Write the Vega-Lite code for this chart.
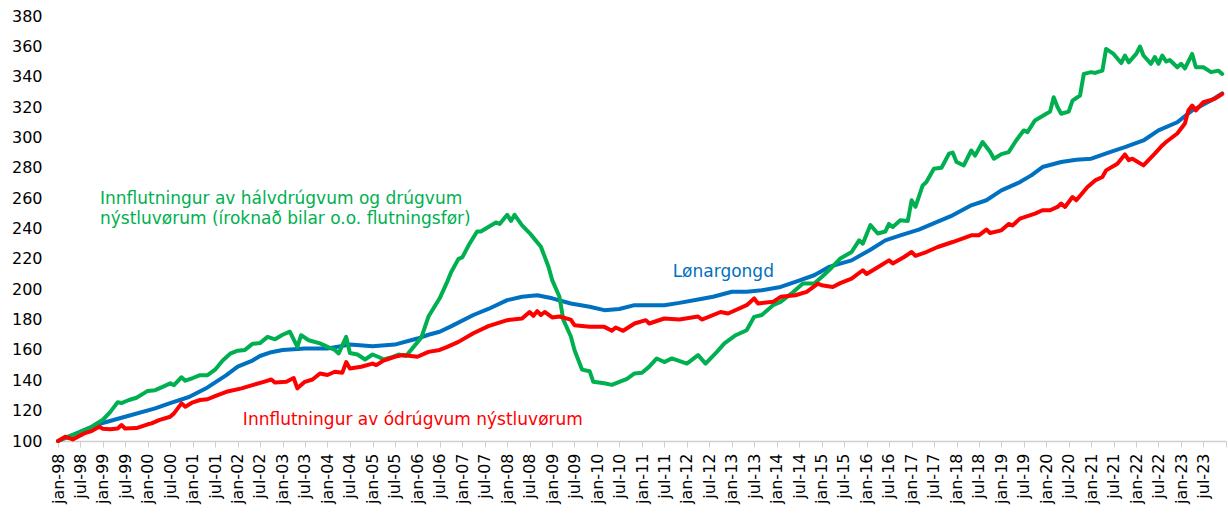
{
"$schema":"https://vega.github.io/schema/vega-lite/v6.json",
"width":1168,"height":425,
"autosize":{"type":"none"},
"padding":{"left":58,"top":16,"right":2,"bottom":72},
"background":"white",
"config":{"view":{"stroke":null},"font":"DejaVu Sans","axis":{"labelOverlap":false}},
"layer":[
{"data":{"values":[
{"s":"b","d":"1998-01","v":100},{"s":"b","d":"1998-07","v":106},{"s":"b","d":"1998-12","v":111.2},{"s":"b","d":"1999-07","v":116},{"s":"b","d":"2000-03","v":121.5},{"s":"b","d":"2000-07","v":125},{"s":"b","d":"2000-12","v":129},{"s":"b","d":"2001-05","v":135.3},{"s":"b","d":"2001-10","v":143.4},{"s":"b","d":"2002-01","v":149},{"s":"b","d":"2002-05","v":153},{"s":"b","d":"2002-07","v":156},{"s":"b","d":"2002-10","v":158.5},{"s":"b","d":"2003-01","v":160},{"s":"b","d":"2003-07","v":161},{"s":"b","d":"2004-01","v":161},{"s":"b","d":"2004-07","v":163.5},{"s":"b","d":"2005-01","v":162.5},{"s":"b","d":"2005-07","v":163.5},{"s":"b","d":"2006-01","v":167.5},{"s":"b","d":"2006-04","v":170},{"s":"b","d":"2006-07","v":172},{"s":"b","d":"2006-10","v":175.5},{"s":"b","d":"2007-04","v":183},{"s":"b","d":"2007-08","v":187},{"s":"b","d":"2008-01","v":192.8},{"s":"b","d":"2008-05","v":195},{"s":"b","d":"2008-09","v":196},{"s":"b","d":"2009-01","v":194},{"s":"b","d":"2009-06","v":190.6},{"s":"b","d":"2009-11","v":188.4},{"s":"b","d":"2010-03","v":186.2},{"s":"b","d":"2010-07","v":187},{"s":"b","d":"2010-11","v":189.5},{"s":"b","d":"2011-03","v":189.5},{"s":"b","d":"2011-07","v":189.5},{"s":"b","d":"2011-11","v":191},{"s":"b","d":"2012-04","v":193.2},{"s":"b","d":"2012-08","v":195},{"s":"b","d":"2013-01","v":198.3},{"s":"b","d":"2013-05","v":198.3},{"s":"b","d":"2013-09","v":199.3},{"s":"b","d":"2014-02","v":201.5},{"s":"b","d":"2014-06","v":204.8},{"s":"b","d":"2014-11","v":209.2},{"s":"b","d":"2015-03","v":214.7},{"s":"b","d":"2015-09","v":219},{"s":"b","d":"2016-02","v":226},{"s":"b","d":"2016-06","v":232.2},{"s":"b","d":"2016-10","v":235.5},{"s":"b","d":"2017-03","v":239.3},{"s":"b","d":"2017-08","v":244.5},{"s":"b","d":"2017-12","v":248.7},{"s":"b","d":"2018-05","v":255.3},{"s":"b","d":"2018-09","v":258.6},{"s":"b","d":"2019-01","v":265.1},{"s":"b","d":"2019-06","v":270.6},{"s":"b","d":"2019-09","v":275},{"s":"b","d":"2019-12","v":280.5},{"s":"b","d":"2020-05","v":283.8},{"s":"b","d":"2020-09","v":285.3},{"s":"b","d":"2021-01","v":286},{"s":"b","d":"2021-06","v":290.3},{"s":"b","d":"2021-10","v":293.6},{"s":"b","d":"2022-03","v":298},{"s":"b","d":"2022-07","v":304.6},{"s":"b","d":"2022-12","v":310},{"s":"b","d":"2023-04","v":317.8},{"s":"b","d":"2023-09","v":324.3},{"s":"b","d":"2023-12","v":329},
{"s":"g","d":"1998-01","v":100},{"s":"g","d":"1998-04","v":103},{"s":"g","d":"1998-06","v":105},{"s":"g","d":"1998-10","v":109.4},{"s":"g","d":"1999-01","v":114},{"s":"g","d":"1999-03","v":119},{"s":"g","d":"1999-05","v":125.5},{"s":"g","d":"1999-06","v":125},{"s":"g","d":"1999-08","v":127},{"s":"g","d":"1999-10","v":128.5},{"s":"g","d":"2000-01","v":133},{"s":"g","d":"2000-03","v":133.5},{"s":"g","d":"2000-05","v":135.7},{"s":"g","d":"2000-07","v":138},{"s":"g","d":"2000-08","v":136.8},{"s":"g","d":"2000-10","v":142},{"s":"g","d":"2000-11","v":139.7},{"s":"g","d":"2001-01","v":141.5},{"s":"g","d":"2001-03","v":143.4},{"s":"g","d":"2001-05","v":143.4},{"s":"g","d":"2001-07","v":147},{"s":"g","d":"2001-09","v":153},{"s":"g","d":"2001-11","v":157.5},{"s":"g","d":"2002-01","v":159.5},{"s":"g","d":"2002-03","v":160},{"s":"g","d":"2002-05","v":164},{"s":"g","d":"2002-07","v":164.5},{"s":"g","d":"2002-09","v":168.6},{"s":"g","d":"2002-11","v":167},{"s":"g","d":"2003-01","v":170},{"s":"g","d":"2003-03","v":172},{"s":"g","d":"2003-05","v":162},{"s":"g","d":"2003-06","v":169.7},{"s":"g","d":"2003-08","v":166.4},{"s":"g","d":"2003-11","v":164.3},{"s":"g","d":"2004-01","v":162},{"s":"g","d":"2004-03","v":160},{"s":"g","d":"2004-04","v":157.7},{"s":"g","d":"2004-06","v":168.6},{"s":"g","d":"2004-07","v":158},{"s":"g","d":"2004-09","v":157},{"s":"g","d":"2004-11","v":153.7},{"s":"g","d":"2005-01","v":157},{"s":"g","d":"2005-03","v":155},{"s":"g","d":"2005-04","v":153.7},{"s":"g","d":"2005-06","v":155},{"s":"g","d":"2005-08","v":157},{"s":"g","d":"2005-10","v":156},{"s":"g","d":"2005-12","v":162},{"s":"g","d":"2006-02","v":168},{"s":"g","d":"2006-04","v":182},{"s":"g","d":"2006-05","v":186},{"s":"g","d":"2006-07","v":194},{"s":"g","d":"2006-09","v":205},{"s":"g","d":"2006-10","v":211},{"s":"g","d":"2006-12","v":220},{"s":"g","d":"2007-01","v":221},{"s":"g","d":"2007-03","v":230},{"s":"g","d":"2007-05","v":238},{"s":"g","d":"2007-06","v":238},{"s":"g","d":"2007-08","v":241},{"s":"g","d":"2007-10","v":244},{"s":"g","d":"2007-11","v":243},{"s":"g","d":"2008-01","v":249},{"s":"g","d":"2008-02","v":245},{"s":"g","d":"2008-03","v":249},{"s":"g","d":"2008-05","v":242},{"s":"g","d":"2008-07","v":237},{"s":"g","d":"2008-08","v":234},{"s":"g","d":"2008-10","v":228},{"s":"g","d":"2008-12","v":215},{"s":"g","d":"2009-01","v":206},{"s":"g","d":"2009-03","v":195},{"s":"g","d":"2009-04","v":180},{"s":"g","d":"2009-06","v":169},{"s":"g","d":"2009-07","v":160},{"s":"g","d":"2009-09","v":147},{"s":"g","d":"2009-11","v":146},{"s":"g","d":"2009-12","v":139},{"s":"g","d":"2010-03","v":138},{"s":"g","d":"2010-05","v":137},{"s":"g","d":"2010-07","v":139},{"s":"g","d":"2010-09","v":141},{"s":"g","d":"2010-11","v":144.5},{"s":"g","d":"2011-01","v":145},{"s":"g","d":"2011-03","v":149},{"s":"g","d":"2011-05","v":154.4},{"s":"g","d":"2011-07","v":152},{"s":"g","d":"2011-09","v":154.4},{"s":"g","d":"2012-01","v":151},{"s":"g","d":"2012-04","v":156.6},{"s":"g","d":"2012-06","v":151},{"s":"g","d":"2012-09","v":158.7},{"s":"g","d":"2012-11","v":164.3},{"s":"g","d":"2013-02","v":169.7},{"s":"g","d":"2013-05","v":173},{"s":"g","d":"2013-07","v":181.8},{"s":"g","d":"2013-09","v":183},{"s":"g","d":"2013-12","v":189.5},{"s":"g","d":"2014-02","v":191.7},{"s":"g","d":"2014-05","v":197.2},{"s":"g","d":"2014-08","v":203.7},{"s":"g","d":"2014-11","v":203.7},{"s":"g","d":"2015-01","v":208},{"s":"g","d":"2015-03","v":212.5},{"s":"g","d":"2015-06","v":220.2},{"s":"g","d":"2015-09","v":224.5},{"s":"g","d":"2015-11","v":232.2},{"s":"g","d":"2015-12","v":230},{"s":"g","d":"2016-02","v":242.3},{"s":"g","d":"2016-04","v":236.7},{"s":"g","d":"2016-06","v":238},{"s":"g","d":"2016-07","v":243},{"s":"g","d":"2016-08","v":241},{"s":"g","d":"2016-10","v":245.4},{"s":"g","d":"2016-12","v":245},{"s":"g","d":"2017-01","v":258.6},{"s":"g","d":"2017-02","v":254.3},{"s":"g","d":"2017-04","v":268.4},{"s":"g","d":"2017-05","v":270.6},{"s":"g","d":"2017-07","v":279.4},{"s":"g","d":"2017-09","v":280},{"s":"g","d":"2017-11","v":289.3},{"s":"g","d":"2017-12","v":290},{"s":"g","d":"2018-01","v":283.8},{"s":"g","d":"2018-03","v":281.6},{"s":"g","d":"2018-05","v":291.4},{"s":"g","d":"2018-06","v":288},{"s":"g","d":"2018-08","v":297},{"s":"g","d":"2018-10","v":290.6},{"s":"g","d":"2018-11","v":286},{"s":"g","d":"2019-01","v":289},{"s":"g","d":"2019-03","v":290.3},{"s":"g","d":"2019-05","v":298},{"s":"g","d":"2019-07","v":304.6},{"s":"g","d":"2019-08","v":303.5},{"s":"g","d":"2019-10","v":311.2},{"s":"g","d":"2020-01","v":315.6},{"s":"g","d":"2020-02","v":317},{"s":"g","d":"2020-03","v":326.5},{"s":"g","d":"2020-04","v":320},{"s":"g","d":"2020-05","v":315.6},{"s":"g","d":"2020-07","v":317},{"s":"g","d":"2020-08","v":324.3},{"s":"g","d":"2020-10","v":327.6},{"s":"g","d":"2020-11","v":341.9},{"s":"g","d":"2021-01","v":343},{"s":"g","d":"2021-02","v":342.5},{"s":"g","d":"2021-04","v":344},{"s":"g","d":"2021-05","v":358.3},{"s":"g","d":"2021-07","v":355},{"s":"g","d":"2021-09","v":349},{"s":"g","d":"2021-10","v":353.9},{"s":"g","d":"2021-11","v":349.5},{"s":"g","d":"2022-01","v":355},{"s":"g","d":"2022-02","v":359.9},{"s":"g","d":"2022-03","v":354},{"s":"g","d":"2022-05","v":348.5},{"s":"g","d":"2022-06","v":353},{"s":"g","d":"2022-07","v":348.5},{"s":"g","d":"2022-08","v":354},{"s":"g","d":"2022-09","v":350},{"s":"g","d":"2022-10","v":351},{"s":"g","d":"2022-12","v":346.2},{"s":"g","d":"2023-01","v":348.5},{"s":"g","d":"2023-02","v":345.5},{"s":"g","d":"2023-04","v":355},{"s":"g","d":"2023-05","v":346.2},{"s":"g","d":"2023-07","v":346.2},{"s":"g","d":"2023-09","v":343},{"s":"g","d":"2023-11","v":344},{"s":"g","d":"2023-12","v":341.8},
{"s":"r","d":"1998-01","v":100},{"s":"r","d":"1998-03","v":102.8},{"s":"r","d":"1998-05","v":101},{"s":"r","d":"1998-08","v":105},{"s":"r","d":"1998-10","v":106.5},{"s":"r","d":"1998-12","v":109.4},{"s":"r","d":"1999-01","v":108},{"s":"r","d":"1999-03","v":107.7},{"s":"r","d":"1999-05","v":108.2},{"s":"r","d":"1999-06","v":110.5},{"s":"r","d":"1999-07","v":108.2},{"s":"r","d":"1999-10","v":108.5},{"s":"r","d":"2000-01","v":111},{"s":"r","d":"2000-02","v":111.6},{"s":"r","d":"2000-04","v":113.8},{"s":"r","d":"2000-07","v":116},{"s":"r","d":"2000-08","v":118.2},{"s":"r","d":"2000-10","v":124.8},{"s":"r","d":"2000-11","v":122.6},{"s":"r","d":"2001-01","v":125.5},{"s":"r","d":"2001-03","v":127},{"s":"r","d":"2001-05","v":127.5},{"s":"r","d":"2001-07","v":129.5},{"s":"r","d":"2001-10","v":132.4},{"s":"r","d":"2002-02","v":134.7},{"s":"r","d":"2002-05","v":136.8},{"s":"r","d":"2002-08","v":139},{"s":"r","d":"2002-10","v":140.5},{"s":"r","d":"2002-11","v":138.5},{"s":"r","d":"2003-02","v":139},{"s":"r","d":"2003-04","v":141.5},{"s":"r","d":"2003-05","v":134.7},{"s":"r","d":"2003-07","v":139},{"s":"r","d":"2003-09","v":140.5},{"s":"r","d":"2003-11","v":144.5},{"s":"r","d":"2004-01","v":143.5},{"s":"r","d":"2004-03","v":145.6},{"s":"r","d":"2004-05","v":145},{"s":"r","d":"2004-06","v":152},{"s":"r","d":"2004-07","v":147.8},{"s":"r","d":"2004-10","v":148.9},{"s":"r","d":"2005-01","v":151},{"s":"r","d":"2005-02","v":150},{"s":"r","d":"2005-04","v":153},{"s":"r","d":"2005-07","v":155.5},{"s":"r","d":"2005-09","v":156.6},{"s":"r","d":"2006-01","v":155.5},{"s":"r","d":"2006-04","v":158.7},{"s":"r","d":"2006-07","v":160},{"s":"r","d":"2006-09","v":162},{"s":"r","d":"2006-12","v":165.3},{"s":"r","d":"2007-04","v":171},{"s":"r","d":"2007-08","v":175.7},{"s":"r","d":"2008-01","v":179.6},{"s":"r","d":"2008-05","v":180.7},{"s":"r","d":"2008-07","v":185},{"s":"r","d":"2008-08","v":182.5},{"s":"r","d":"2008-09","v":185.5},{"s":"r","d":"2008-10","v":183},{"s":"r","d":"2008-11","v":185},{"s":"r","d":"2009-01","v":181.4},{"s":"r","d":"2009-03","v":182},{"s":"r","d":"2009-06","v":180},{"s":"r","d":"2009-07","v":176.3},{"s":"r","d":"2009-11","v":175.2},{"s":"r","d":"2010-03","v":175.2},{"s":"r","d":"2010-05","v":172.6},{"s":"r","d":"2010-06","v":174.8},{"s":"r","d":"2010-08","v":172.6},{"s":"r","d":"2010-11","v":177.4},{"s":"r","d":"2011-02","v":179.6},{"s":"r","d":"2011-03","v":177.4},{"s":"r","d":"2011-07","v":180.7},{"s":"r","d":"2011-11","v":180},{"s":"r","d":"2012-04","v":182},{"s":"r","d":"2012-05","v":180},{"s":"r","d":"2012-10","v":185},{"s":"r","d":"2012-12","v":184},{"s":"r","d":"2013-05","v":189.5},{"s":"r","d":"2013-07","v":193.9},{"s":"r","d":"2013-08","v":190.6},{"s":"r","d":"2013-12","v":191.7},{"s":"r","d":"2014-02","v":195},{"s":"r","d":"2014-06","v":196},{"s":"r","d":"2014-09","v":198.3},{"s":"r","d":"2014-12","v":203.7},{"s":"r","d":"2015-01","v":202.6},{"s":"r","d":"2015-04","v":201.5},{"s":"r","d":"2015-06","v":204},{"s":"r","d":"2015-09","v":207},{"s":"r","d":"2015-12","v":212.5},{"s":"r","d":"2016-01","v":210},{"s":"r","d":"2016-04","v":214.5},{"s":"r","d":"2016-07","v":219},{"s":"r","d":"2016-08","v":217},{"s":"r","d":"2016-11","v":221.2},{"s":"r","d":"2017-01","v":224.5},{"s":"r","d":"2017-02","v":222},{"s":"r","d":"2017-05","v":224.5},{"s":"r","d":"2017-08","v":227.8},{"s":"r","d":"2017-12","v":231.1},{"s":"r","d":"2018-05","v":235.5},{"s":"r","d":"2018-07","v":235.5},{"s":"r","d":"2018-09","v":239.3},{"s":"r","d":"2018-10","v":237},{"s":"r","d":"2019-01","v":238.8},{"s":"r","d":"2019-03","v":243},{"s":"r","d":"2019-04","v":242},{"s":"r","d":"2019-06","v":246.5},{"s":"r","d":"2019-10","v":249.8},{"s":"r","d":"2019-12","v":252},{"s":"r","d":"2020-02","v":252},{"s":"r","d":"2020-04","v":254.2},{"s":"r","d":"2020-05","v":256.4},{"s":"r","d":"2020-06","v":254.2},{"s":"r","d":"2020-08","v":260.7},{"s":"r","d":"2020-09","v":258.6},{"s":"r","d":"2020-12","v":267.3},{"s":"r","d":"2021-02","v":271.7},{"s":"r","d":"2021-04","v":273.9},{"s":"r","d":"2021-05","v":278.3},{"s":"r","d":"2021-08","v":282.7},{"s":"r","d":"2021-10","v":288.8},{"s":"r","d":"2021-11","v":285},{"s":"r","d":"2021-12","v":286},{"s":"r","d":"2022-03","v":281.6},{"s":"r","d":"2022-06","v":289.3},{"s":"r","d":"2022-08","v":294.7},{"s":"r","d":"2022-09","v":297},{"s":"r","d":"2022-12","v":302.6},{"s":"r","d":"2023-02","v":309.2},{"s":"r","d":"2023-03","v":317.8},{"s":"r","d":"2023-04","v":321},{"s":"r","d":"2023-05","v":317.8},{"s":"r","d":"2023-07","v":323.2},{"s":"r","d":"2023-10","v":325.4},{"s":"r","d":"2023-12","v":328.6}
]},
"mark":{"type":"line","strokeWidth":4,"strokeJoin":"round","strokeCap":"round"},
"encoding":{
"x":{"field":"d","type":"temporal","scale":{"type":"utc","domain":[{"year":1998,"month":1,"date":1,"utc":true},{"year":2024,"month":1,"date":1,"utc":true}],"nice":false},
"axis":{"title":null,"grid":false,"tickCount":{"interval":"month","step":6},"labelExpr":"utcyear(datum.value) >= 2024 ? '' : lower(utcFormat(datum.value, '%b-%y'))","labelAngle":-90,"labelFontSize":16,"labelColor":"#000000","labelPadding":6,"labelOverlap":false,"labelBound":false,"labelFlush":false,"tickSize":6,"tickColor":"#d0d0d0","domainColor":"#d0d0d0","domainWidth":1.5}},
"y":{"field":"v","type":"quantitative","scale":{"domain":[100,380],"nice":false,"zero":false},
"axis":{"title":null,"grid":false,"domain":false,"ticks":false,"tickCount":30,"values":[100,120,140,160,180,200,220,240,260,280,300,320,340,360,380],"labelOverlap":false,"labelBound":false,"labelFlush":false,"labelFontSize":16,"labelColor":"#000000","labelPadding":16}},
"color":{"field":"s","type":"nominal","scale":{"domain":["b","g","r"],"range":["#0070C0","#00B050","#FF0000"]},"legend":null}
}},
{"data":{"values":[
{"s":"g","d":"1998-12-08","v":259.2,"t":"Innflutningur av hálvdrúgvum og drúgvum"},
{"s":"g","d":"1998-12-08","v":246,"t":"nýstluvørum (íroknað bilar o.o. flutningsfør)"},
{"s":"b","d":"2011-09-07","v":211.4,"t":"Lønargongd"},
{"s":"r","d":"2002-02-12","v":113.8,"t":"Innflutningur av ódrúgvum nýstluvørum"}
]},
"mark":{"type":"text","align":"left","baseline":"middle","fontSize":17,"font":"DejaVu Sans"},
"encoding":{
"x":{"field":"d","type":"temporal"},
"y":{"field":"v","type":"quantitative"},
"text":{"field":"t"},
"color":{"field":"s","type":"nominal","legend":null}
}}
]
}
